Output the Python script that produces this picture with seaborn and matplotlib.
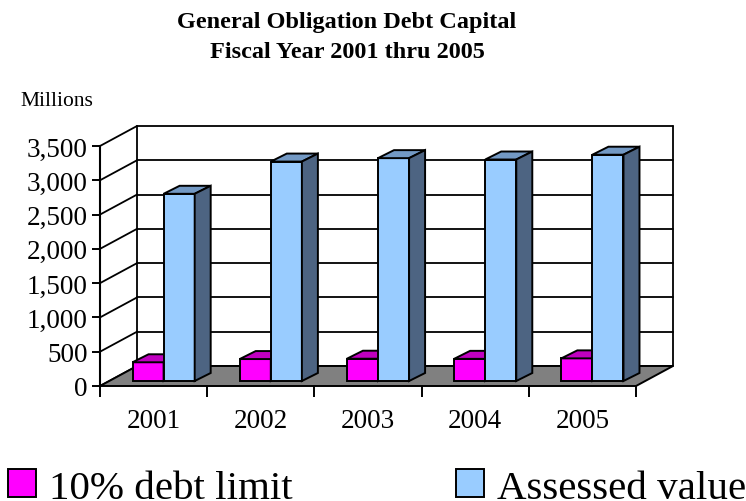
import matplotlib
matplotlib.use("Agg")
import matplotlib.pyplot as plt
from matplotlib.patches import Polygon
import pandas as pd
import seaborn as sns

years = ["2001", "2002", "2003", "2004", "2005"]
debt_limit = [273, 320, 325, 323, 330]
assessed_value = [2730, 3200, 3250, 3230, 3300]
series_names = ["10% debt limit", "Assessed value"]
y_ticks = [0, 500, 1000, 1500, 2000, 2500, 3000, 3500]

front_colors = ["#FF00FF", "#99CCFF"]
top_colors = ["#C000C0", "#7399C4"]
side_colors = ["#800080", "#4D6482"]

df = pd.DataFrame({
    "year": years * 2,
    "value": debt_limit + assessed_value,
    "series": [series_names[0]] * len(years) + [series_names[1]] * len(years),
})

sns.set_theme(style="white")
plt.rcParams["font.family"] = ["Liberation Serif", "DejaVu Serif"]
plt.rcParams["text.color"] = "black"
plt.rcParams["xtick.color"] = "black"
plt.rcParams["ytick.color"] = "black"

fig = plt.figure(figsize=(7.46, 5.02), dpi=100)
ax = fig.add_axes([100 / 746, 115 / 502, 536 / 746, 240 / 502])
ax.set_facecolor("none")

sns.barplot(data=df, x="year", y="value", hue="series", palette=front_colors,
            width=0.58, edgecolor="black", linewidth=1.4, saturation=1,
            ax=ax)
ax.set_xlim(-0.5, 4.5)
ax.set_ylim(0, 3500)

# pixel -> data conversions for the fake 3-D depth
ux = ax.bbox.width / 5
uy = ax.bbox.height / 3500
wall_dx, wall_dy = 37 / ux, 20 / uy
bar_sx, bar_sy = 10 / ux, 5 / uy
bar_dx, bar_dy = 16 / ux, 8 / uy

# back wall + side wall lines
for v in y_ticks:
    ax.plot([-0.5 + wall_dx, 4.5 + wall_dx], [v + wall_dy, v + wall_dy],
            color="black", lw=1.3, zorder=1, clip_on=False)
    ax.plot([-0.5, -0.5 + wall_dx], [v, v + wall_dy],
            color="black", lw=1.3, zorder=1, clip_on=False)
for xe in [-0.5, 4.5]:
    ax.plot([xe + wall_dx, xe + wall_dx], [wall_dy, 3500 + wall_dy],
            color="black", lw=1.3, zorder=1, clip_on=False)

# floor
ax.add_patch(Polygon([(-0.5, 0), (4.5, 0), (4.5 + wall_dx, wall_dy),
                      (-0.5 + wall_dx, wall_dy)], closed=True,
                     facecolor="#808080", edgecolor="black", lw=1.4,
                     zorder=2, clip_on=False))

# bars: shift into the floor and add top / side faces
for i, cont in enumerate(ax.containers):
    for bar in cont:
        x = bar.get_x() + bar_sx
        w = bar.get_width()
        h = bar.get_height()
        y = bar_sy
        bar.set_x(x)
        bar.set_y(y)
        bar.set_zorder(3 + i)
        bar.set_clip_on(False)
        top = Polygon([(x, y + h), (x + w, y + h), (x + w + bar_dx, y + h + bar_dy),
                       (x + bar_dx, y + h + bar_dy)], closed=True,
                      facecolor=top_colors[i], edgecolor="black", lw=1.4,
                      zorder=3 + i, clip_on=False)
        side = Polygon([(x + w, y), (x + w + bar_dx, y + bar_dy),
                        (x + w + bar_dx, y + h + bar_dy), (x + w, y + h)],
                       closed=True, facecolor=side_colors[i], edgecolor="black",
                       lw=1.4, zorder=3 + i, clip_on=False)
        ax.add_patch(top)
        ax.add_patch(side)

# axes styling
for s in ["top", "right"]:
    ax.spines[s].set_visible(False)
ax.spines["left"].set_color("black")
ax.spines["left"].set_linewidth(1.5)
ax.spines["bottom"].set_visible(False)
ax.set_yticks(y_ticks)
ax.set_yticklabels([f"{v:,}" for v in y_ticks], fontsize=19.5)
ax.tick_params(axis="y", direction="out", length=6, width=1.4, color="black",
               labelcolor="black", pad=3, left=True)
ax.set_xticks(range(len(years)))
ax.set_xticklabels(years, fontsize=19.5)
ax.set_xticks([k - 0.5 for k in range(len(years) + 1)], minor=True)
ax.tick_params(axis="x", which="major", length=0, pad=16, labelcolor="black")
ax.tick_params(axis="x", which="minor", direction="out", length=8, width=1.4,
               color="black", bottom=True)
ax.set_xlabel("")
ax.set_ylabel("")

sns.move_legend(ax, "center left", bbox_to_anchor=(8 / 746, 13 / 502),
                bbox_transform=fig.transFigure, ncol=2, frameon=False,
                title=None, fontsize=29.5, handlelength=0.68, handleheight=0.68,
                handletextpad=0.32, columnspacing=4.0, borderaxespad=0,
                borderpad=0, labelcolor="black")

fig.text(347 / 746, 1 - 12 / 502,
         "General Obligation Debt Capital\nFiscal Year 2001 thru 2005",
         ha="center", va="top", fontsize=17.5, fontweight="bold",
         linespacing=1.55, color="black")
fig.text(20 / 746, 1 - 101 / 502, "Millions", ha="left", va="center",
         fontsize=15.5, color="black")

fig.savefig("out.png", dpi=100)
